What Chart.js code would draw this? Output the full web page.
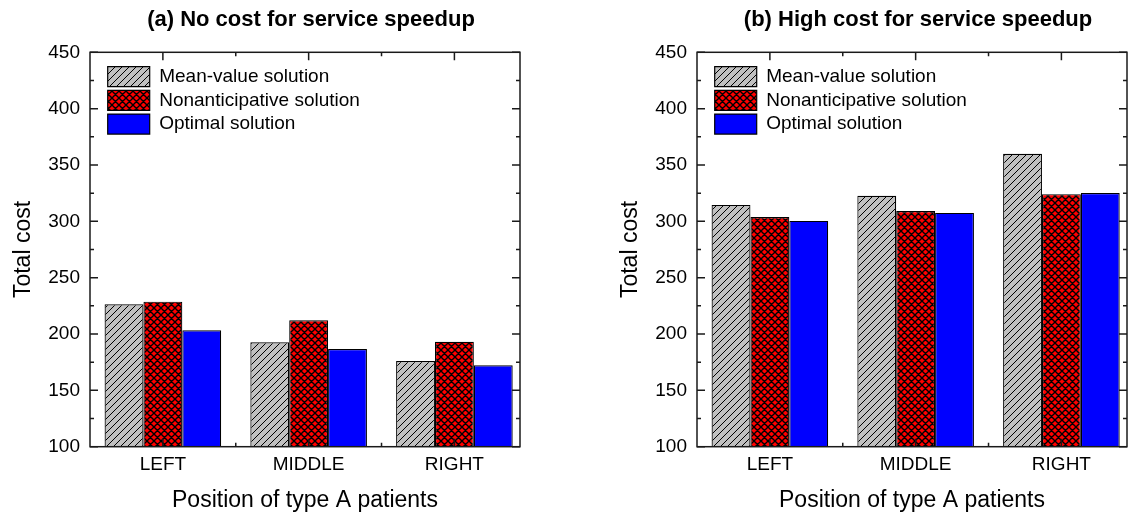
<!DOCTYPE html>
<html><head><meta charset="utf-8">
<script src="https://cdn.jsdelivr.net/npm/chart.js@4.4.1/dist/chart.umd.min.js"></script>
<style>
html,body{margin:0;padding:0;background:#fff;overflow:hidden;width:1129px;height:513px;}
.wrap{position:absolute;top:0;}
canvas{display:block;}
</style></head><body>
<div class="wrap" style="left:0px"><canvas id="c1" width="622" height="513"></canvas></div>
<div class="wrap" style="left:607px"><canvas id="c2" width="622" height="513"></canvas></div>
<script>
// ---- data ----
const categories = ['LEFT', 'MIDDLE', 'RIGHT'];
const seriesNames = ['Mean-value solution', 'Nonanticipative solution', 'Optimal solution'];
const yTickValues = [100, 150, 200, 250, 300, 350, 400, 450];
const noCostMean = [226.4, 192.6, 176.0];
const noCostNonanticipative = [228.7, 212.2, 193.2];
const noCostOptimal = [203.3, 186.7, 172.2];
const highCostMean = [314.6, 322.6, 359.9];
const highCostNonanticipative = [303.9, 309.2, 324.1];
const highCostOptimal = [300.4, 307.5, 325.2];
const chartTitles = ['(a) No cost for service speedup', '(b) High cost for service speedup'];
const xAxisTitle = 'Position of type A patients';
const yAxisTitle = 'Total cost';

const FF = '"Liberation Sans", Arial, Helvetica, sans-serif';

// ---- fill patterns ----
function hatchPattern() {
  const s = 7, c = document.createElement('canvas');
  c.width = s; c.height = s;
  const g = c.getContext('2d');
  g.fillStyle = '#c0c0c0'; g.fillRect(0, 0, s, s);
  g.strokeStyle = '#000'; g.lineWidth = 1;
  g.beginPath();
  for (const k of [-s, 0, s]) { g.moveTo(-1 + k, s + 1); g.lineTo(s + 1 + k, -1); }
  g.stroke();
  return g.createPattern(c, 'repeat');
}
function crossPattern() {
  const s = 7, c = document.createElement('canvas');
  c.width = s; c.height = s;
  const g = c.getContext('2d');
  g.fillStyle = '#ff0000'; g.fillRect(0, 0, s, s);
  g.strokeStyle = '#000'; g.lineWidth = 1.4;
  g.beginPath();
  for (const k of [-s, 0, s]) {
    g.moveTo(-1 + k, s + 1); g.lineTo(s + 1 + k, -1);
    g.moveTo(-1 + k, -1); g.lineTo(s + 1 + k, s + 1);
  }
  g.stroke();
  return g.createPattern(c, 'repeat');
}
const fills = [hatchPattern(), crossPattern(), '#0000ff'];

// ---- plugins ----
const framePlugin = {
  id: 'frame',
  afterDatasetsDraw(chart) {
    const {ctx, chartArea: {left, right, top, bottom}, scales: {x, y}} = chart;
    const major = 8, minor = 4;
    ctx.save();
    ctx.strokeStyle = '#1a1a1a';
    ctx.lineWidth = 1.5;
    ctx.strokeRect(left, top, right - left, bottom - top);
    ctx.beginPath();
    yTickValues.forEach((v, i) => {
      const p = y.getPixelForValue(v);
      ctx.moveTo(left, p); ctx.lineTo(left + major, p);
      ctx.moveTo(right, p); ctx.lineTo(right - major, p);
      if (i < yTickValues.length - 1) {
        const q = y.getPixelForValue((v + yTickValues[i + 1]) / 2);
        ctx.moveTo(left, q); ctx.lineTo(left + minor, q);
        ctx.moveTo(right, q); ctx.lineTo(right - minor, q);
      }
    });
    categories.forEach((c, i) => {
      const p = x.getPixelForValue(i + 1);
      ctx.moveTo(p, bottom); ctx.lineTo(p, bottom - major);
      ctx.moveTo(p, top); ctx.lineTo(p, top + major);
      if (i < categories.length - 1) {
        const q = x.getPixelForValue(i + 1.5);
        ctx.moveTo(q, bottom); ctx.lineTo(q, bottom - minor);
        ctx.moveTo(q, top); ctx.lineTo(q, top + minor);
      }
    });
    ctx.stroke();
    ctx.restore();
  }
};
const legendPlace = {
  id: 'legendPlace',
  afterLayout(chart) {
    const L = chart.legend;
    if (!L) return;
    const ca = chart.chartArea;
    L.left = ca.left + 14;
    L.top = ca.top + 10.7;
    L.right = L.left + L.width + 30;
    L.bottom = L.top + L.height + 30;
  }
};

function makeChart(id, title, mean, nonant, optimal) {
  const series = [mean, nonant, optimal];
  return new Chart(document.getElementById(id), {
    type: 'bar',
    data: {
      datasets: series.map((vals, s) => ({
        label: seriesNames[s],
        data: vals.map((v, i) => ({x: i + 1, y: v})),
        backgroundColor: fills[s],
        borderColor: '#000',
        borderWidth: 1.2,
        yAxisID: 'y',
        xAxisID: 'x',
        barPercentage: 1.0,
        categoryPercentage: 0.8
      }))
    },
    options: {
      responsive: false,
      animation: false,
      devicePixelRatio: 1,
      layout: {padding: 0},
      scales: {
        x: {
          type: 'linear', min: 0.5, max: 3.45, offset: false,
          grid: {display: false, drawTicks: false}, border: {display: false},
          afterBuildTicks(s) { s.ticks = categories.map((c, i) => ({value: i + 1})); },
          ticks: {padding: 7, color: '#000', autoSkip: false, maxRotation: 0,
                  font: {size: 19, family: FF}, callback: (v) => categories[v - 1]},
          title: {display: true, text: xAxisTitle, color: '#000', padding: 0,
                  font: {size: 23, family: FF, lineHeight: 1.1}},
          afterFit(s) { s.height = 66.3; }
        },
        y: {
          type: 'linear', position: 'left', min: 100, max: 450,
          grid: {display: false, drawTicks: false}, border: {display: false},
          afterBuildTicks(s) { s.ticks = yTickValues.map(v => ({value: v})); },
          ticks: {padding: 10, color: '#000', font: {size: 19, family: FF}},
          title: {display: true, text: yAxisTitle, color: '#000', padding: {top: 11, bottom: 0},
                  font: {size: 23, family: FF, lineHeight: 1.1}},
          afterFit(s) { s.width = 90; }
        },
        yPad: {
          type: 'linear', position: 'right', display: true,
          grid: {display: false, drawTicks: false}, border: {display: false},
          ticks: {display: false},
          afterFit(s) { s.width = 102; }
        }
      },
      plugins: {
        title: {display: true, text: title, color: '#000',
                font: {size: 22, weight: 'bold', family: FF},
                padding: {top: 6.5, bottom: 19.4}},
        legend: {
          position: 'chartArea', align: 'start',
          labels: {boxWidth: 42, boxHeight: 20, padding: 3.7, color: '#000',
                   font: {size: 19, family: FF}}
        },
        tooltip: {enabled: false}
      }
    },
    plugins: [framePlugin, legendPlace]
  });
}

makeChart('c1', chartTitles[0], noCostMean, noCostNonanticipative, noCostOptimal);
makeChart('c2', chartTitles[1], highCostMean, highCostNonanticipative, highCostOptimal);
</script>
</body></html>
